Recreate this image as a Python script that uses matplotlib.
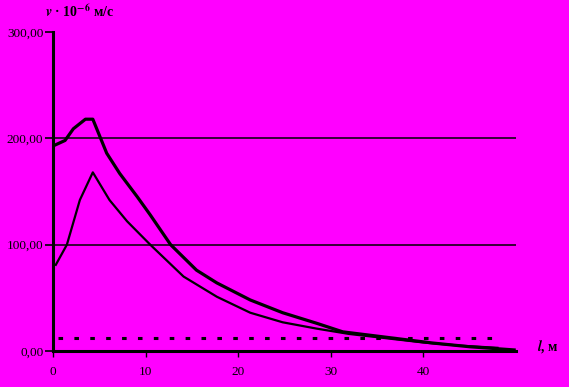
import matplotlib
matplotlib.use("Agg")
import matplotlib.pyplot as plt

# ── data ──────────────────────────────────────────────────────────────────────
x_upper = [0.3, 1.3, 2.2, 3.5, 4.3, 5.8, 7.2, 9.1, 10.5, 12.7, 15.5, 17.7,
           21.3, 24.8, 28.5, 31.3, 35.0, 41.0, 45.0, 49.8]
v_upper = [194, 198, 209, 218, 218, 186, 167, 145, 128, 100, 76, 64,
           48, 36, 26, 18, 14, 7.5, 4, 1]

x_lower = [0.3, 1.5, 2.9, 4.3, 6.1, 8.0, 10.5, 14.1, 17.7, 21.3, 24.8,
           28.5, 32.0, 36.0, 40.0, 44.0, 48.0]
v_lower = [81, 100, 142, 168, 142, 122, 100, 70, 51, 36, 27,
           21, 16, 12, 8, 5, 3]

x_dash = [0.5, 48.0]
v_dash = [12, 12]

grid_levels = [100, 200]
y_ticks = [0, 100, 200, 300]
y_labels = ["0,00", "100,00", "200,00", "300,00"]
x_ticks = [0, 10, 20, 30, 40]

BG = "#FF00FF"
SERIF = ["Liberation Serif", "DejaVu Serif"]
plt.rcParams["mathtext.fontset"] = "stix"

fig = plt.figure(figsize=(5.69, 3.87), dpi=100, facecolor=BG)
ax = fig.add_axes([53 / 569, 36 / 387, 463 / 569, 319 / 387])
ax.set_facecolor(BG)

for g in grid_levels:
    ax.axhline(g, color="black", lw=1.1, zorder=1)

ax.plot(x_upper, v_upper, color="black", lw=2.3, zorder=3)
ax.plot(x_lower, v_lower, color="black", lw=1.6, zorder=3)
ax.plot(x_dash, v_dash, color="black", lw=2.2, linestyle=(0, (1.5, 3.7)), zorder=2)

ax.set_xlim(0, 50)
ax.set_ylim(0, 300)

for side in ("top", "right"):
    ax.spines[side].set_visible(False)
ax.spines["left"].set_linewidth(2.2)
ax.spines["bottom"].set_linewidth(2.2)

ax.set_yticks(y_ticks)
ax.set_yticklabels(y_labels, family=SERIF, fontsize=9.5)
ax.set_xticks(x_ticks)
ax.set_xticklabels([str(t) for t in x_ticks], family=SERIF, fontsize=9.5)
ax.tick_params(axis="y", length=6, width=1.2, pad=1)
ax.tick_params(axis="x", length=4, width=1.0, pad=7)

fig.text(45 / 569, 1 - 12 / 387, r"$\boldsymbol{v}$ · 10$^{\mathbf{-6}}$ м/с", family=SERIF,
         fontsize=10, fontweight="bold", va="center", ha="left")
fig.text(537 / 569, 1 - 347 / 387, r"$\boldsymbol{l}$, м", family=SERIF,
         fontsize=10, fontweight="bold", va="center", ha="left")

fig.savefig("out.png", dpi=100, facecolor=BG)
